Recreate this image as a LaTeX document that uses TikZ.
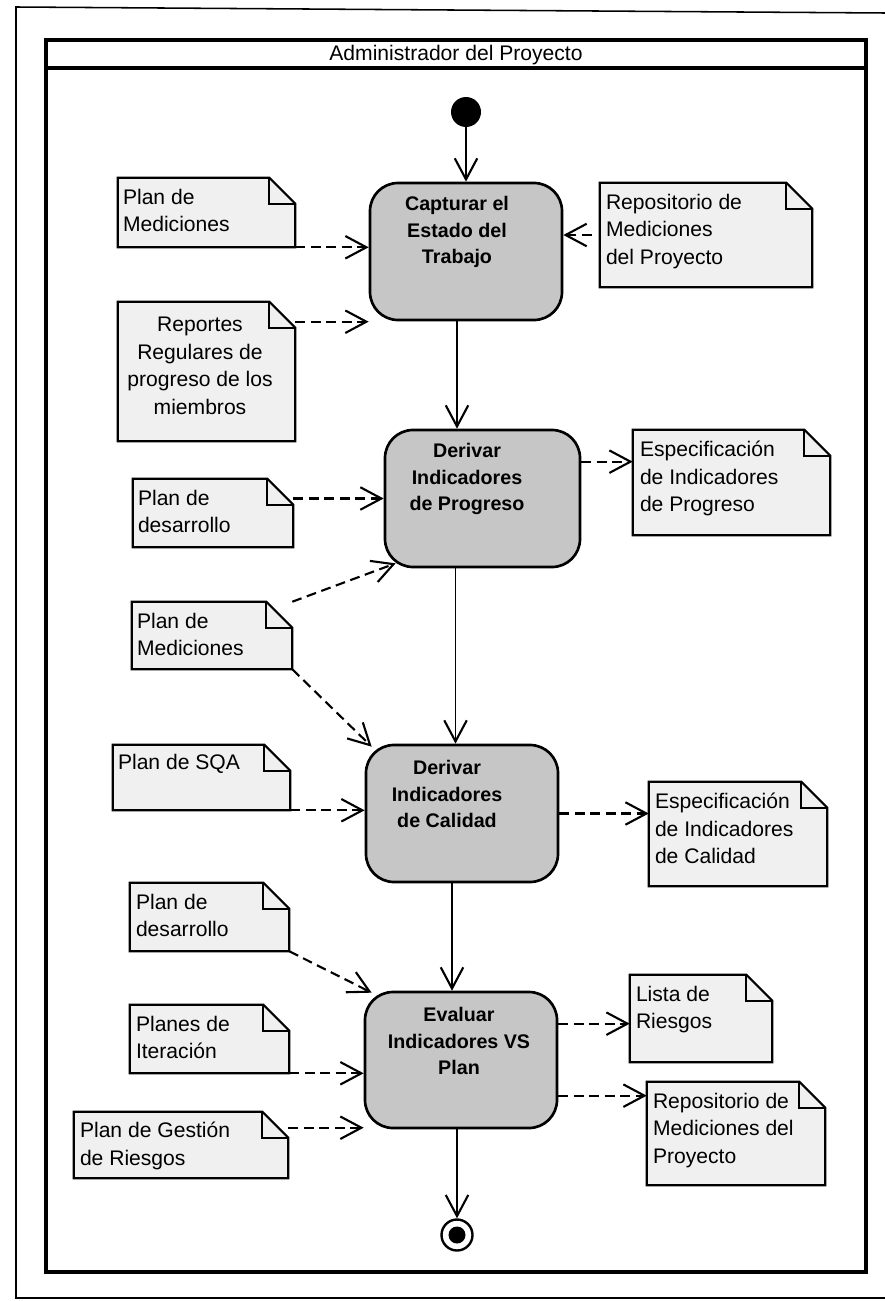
\documentclass[tikz,border=0pt]{standalone}
\usepackage{fontspec}
\setmainfont{Liberation Sans}
\usetikzlibrary{arrows.meta,calc}

\newcommand\pxunit{0.025cm}
\newcommand\foldsize{0.65cm}
\definecolor{actgray}{HTML}{C6C6C6}
\definecolor{notegray}{HTML}{F0F0F0}

\begin{document}
\begin{tikzpicture}[x=0.025cm,y=-0.025cm,
  activity/.style={draw, line width=1.9pt, rounded corners=0.7cm, fill=actgray,
    minimum width=192*\pxunit, minimum height=137*\pxunit, inner sep=0pt},
  acttext/.style={font=\fontsize{14}{18.8}\selectfont\bfseries, align=center, inner sep=0pt},
  notebox/.style={draw=none, inner sep=0pt},
  notesize/.style 2 args={minimum width=#1*\pxunit, minimum height=#2*\pxunit},
  noteline/.style={line width=1.5pt, line join=miter},
  notetext/.style={font=\fontsize{15}{19.6}\selectfont, align=left, inner sep=0pt, anchor=north west},
  flow/.style={line width=1.3pt, -{Straight Barb[length=15pt,width=16pt,line width=1.5pt]}},
  dep/.style={flow, line width=1.5pt, dash pattern=on 7pt off 4pt},
]
\useasboundingbox (0,0) rectangle (885,1301);

% page frame and swimlane
\draw[line width=1.1pt] (885,13) -- (16,7) -- (16,1298) -- (885,1298);
\draw[line width=3pt] (46,40) rectangle (866,1272);
\draw[line width=3pt] (46,68) -- (866,68);
\node[font=\fontsize{15}{18}\selectfont, inner sep=0pt] (title) at (456,55) {Administrador del Proyecto};

% initial and final states
\node[circle, fill=black, minimum size=30*\pxunit, inner sep=0pt] (start) at (466,112) {};
\node[circle, draw, line width=1.7pt, fill=white, minimum size=31*\pxunit, inner sep=0pt] (end) at (457,1235) {};
\node[circle, fill=black, minimum size=17*\pxunit, inner sep=0pt] (endin) at (end) {};

% activities
\node[activity] (a1) at (466,251.5) {};
\node[activity, minimum width=195*\pxunit] (a2) at (482.5,498.5) {};
\node[activity] (a3) at (462,813.5) {};
\node[activity, minimum height=136*\pxunit] (a4) at (461,1060) {};
\node[acttext] (a1t) at (457,232) {Capturar el\\Estado del\\Trabajo};
\node[acttext] (a2t) at (467,479) {Derivar\\Indicadores\\de Progreso};
\node[acttext] (a3t) at (447,794) {Derivar\\Indicadores\\de Calidad};
\node[acttext] (a4t) at (459,1041) {Evaluar\\Indicadores VS\\Plan};

% notes
\node[notebox, notesize={177}{69}]  (n1)  at (206.5,212.5) {};
\node[notebox, notesize={177}{139}] (n2)  at (206.5,371.5) {};
\node[notebox, notesize={212}{104}] (n3)  at (706,235) {};
\node[notebox, notesize={197}{105}] (n4)  at (731.5,482.5) {};
\node[notebox, notesize={160}{68}]  (n5)  at (213,513) {};
\node[notebox, notesize={160}{67}]  (n6)  at (212,635.5) {};
\node[notebox, notesize={177}{65}]  (n7)  at (201.5,777.5) {};
\node[notebox, notesize={178}{104}] (n8)  at (738,834) {};
\node[notebox, notesize={159}{68}]  (n9)  at (209.5,917) {};
\node[notebox, notesize={159}{68}]  (n10) at (209.5,1039) {};
\node[notebox, notesize={214}{66}]  (n11) at (181,1145) {};
\node[notebox, notesize={142}{87}]  (n12) at (701,1018.5) {};
\node[notebox, notesize={178}{103}] (n13) at (736,1133.5) {};

\foreach \n in {n1,n2,n3,n4,n5,n6,n7,n8,n9,n10,n11,n12,n13} {
  \draw[noteline, fill=notegray] (\n.south west) -- (\n.north west)
    -- ([xshift=-\foldsize]\n.north east) -- ([yshift=-\foldsize]\n.north east)
    -- (\n.south east) -- cycle;
  \draw[noteline] ([xshift=-\foldsize]\n.north east)
    -- ([xshift=-\foldsize,yshift=-\foldsize]\n.north east)
    -- ([yshift=-\foldsize]\n.north east);
}

\node[notetext] (n1t)  at ([shift={(5,11)}]n1.north west) {Plan de\\Mediciones};
\node[notetext, align=center, anchor=center] (n2t) at (200,366) {Reportes\\Regulares de\\progreso de los\\miembros};
\node[notetext] (n3t)  at ([shift={(6,11)}]n3.north west) {Repositorio de\\Mediciones\\del Proyecto};
\node[notetext] (n4t)  at ([shift={(7,11)}]n4.north west) {Especificación\\de Indicadores\\de Progreso};
\node[notetext] (n5t)  at ([shift={(5,11)}]n5.north west) {Plan de\\desarrollo};
\node[notetext] (n6t)  at ([shift={(5,11)}]n6.north west) {Plan de\\Mediciones};
\node[notetext] (n7t)  at ([shift={(5,9)}]n7.north west) {Plan de SQA};
\node[notetext] (n8t)  at ([shift={(6,11)}]n8.north west) {Especificación\\de Indicadores\\de Calidad};
\node[notetext] (n9t)  at ([shift={(6,11)}]n9.north west) {Plan de\\desarrollo};
\node[notetext] (n10t) at ([shift={(6,11)}]n10.north west) {Planes de\\Iteración};
\node[notetext] (n11t) at ([shift={(6,10)}]n11.north west) {Plan de Gestión\\de Riesgos};
\node[notetext] (n12t) at ([shift={(6,11)}]n12.north west) {Lista de\\Riesgos};
\node[notetext] (n13t) at ([shift={(6,11)}]n13.north west) {Repositorio de\\Mediciones del\\Proyecto};

% control flow
\coordinate (p5)  at ([shift={(-9,0)}]a1.south);
\coordinate (p10) at ([shift={(-27,0)}]a2.south);
\coordinate (p13) at ([shift={(-10,0)}]a3.south);
\coordinate (p19) at ([shift={(-4,0)}]a4.south);
\draw[flow] (start) -- (a1.north);
\draw[flow] (p5) -- (p5 |- a2.north);
\draw[flow] (p10) -- (p10 |- a3.north);
\draw[flow] (p13) -- (p13 |- a4.north);
\draw[flow] (p19) -- (p19 |- end.north);

% object flows
\coordinate (q2)  at ([shift={(0,20)}]n2.north east);
\coordinate (q6)  at ([shift={(0,33)}]a2.north east);
\coordinate (t8)  at ([shift={(12,-5)}]a2.south west);
\coordinate (t9)  at ([shift={(7,3)}]a3.north west);
\coordinate (t14) at ([shift={(8,2)}]a4.north west);
\coordinate (q16) at ([shift={(0,16)}]n11.north east);
\coordinate (q17) at ([shift={(0,33)}]a4.north east);
\coordinate (q18) at ([shift={(0,105)}]a4.north east);

\draw[dep] (n1.south east) -- (n1.south east -| a1.west);
\draw[dep] (q2) -- (q2 -| a1.west);
\draw[dep] ([shift={(-8,0)}]n3.west) -- (n3.west -| a1.east);
\draw[dep] (q6) -- (q6 -| n4.west);
\draw[dep] (n5.east |- a2.west) -- (a2.west);
\draw[dep] (n6.north east) -- (t8);
\draw[dep] (n6.south east) -- (t9);
\draw[dep] (n7.south east) -- (n7.south east -| a3.west);
\draw[dep] (a3.east) -- (a3.east -| n8.west);
\draw[dep] (n9.south east) -- (t14);
\draw[dep] (n10.south east) -- (n10.south east -| a4.west);
\draw[dep] (q16) -- (q16 -| a4.west);
\draw[dep] (q17) -- (q17 -| n12.west);
\draw[dep] (q18) -- (q18 -| n13.west);
\end{tikzpicture}
\end{document}
